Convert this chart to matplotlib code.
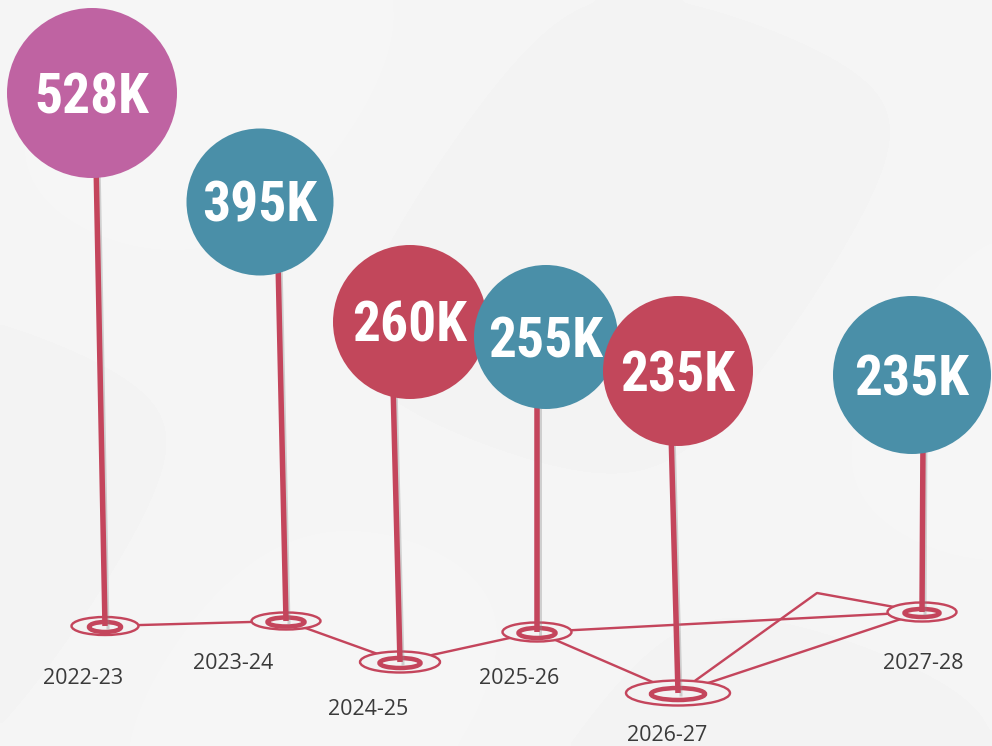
import numpy as np
import matplotlib
matplotlib.use("Agg")
import matplotlib.pyplot as plt
from matplotlib import font_manager
from matplotlib.patches import Circle, Ellipse

# data
years = ["2022-23", "2023-24", "2024-25", "2025-26", "2026-27", "2027-28"]
values = [528, 395, 260, 255, 235, 235]  # thousands
value_labels = [f"{v}K" for v in values]

# layout (pixel space of the 992x746 canvas)
head_x = [92, 260, 410, 546, 678, 912]
head_y = [93, 202, 322, 337, 371, 375]
head_r = [85, 73.5, 77, 72, 75, 79]
head_colors = ["#BF63A2", "#4A8FA8", "#C2475B", "#4A8FA8", "#C2475B", "#4A8FA8"]
stick_top_x = [96, 278, 393, 537, 671, 923]
base_x = [105, 286, 400, 537, 678, 922]
base_y = [626, 621, 662, 632, 693, 612]
base_w = [67, 69, 80, 69, 104, 69]
base_h = [18, 17, 21, 19, 25, 19]
inner_w = [32, 37, 41, 37, 54, 35]
inner_h = [10, 9, 10, 10, 12, 8]
label_x = [83, 233, 368, 519, 667, 923]
label_y = [684, 669, 715, 684, 741, 669]
# base links: (from, to) pin indices, plus one bent link via an apex
links = [(0, 1), (1, 2), (2, 3), (3, 4), (3, 5), (4, 5)]
apex_xy = (817, 593)

RED = "#C4455C"
BG = "#F3F3F3"

names = {f.name for f in font_manager.fontManager.ttflist}
value_font = next((n for n in ["Liberation Sans Narrow", "Roboto Condensed",
                               "Open Sans Condensed"] if n in names), None)
if value_font is None:
    value_font, value_size, value_stretch = "DejaVu Sans", 30, "condensed"
else:
    value_size, value_stretch = 40, "normal"

fig = plt.figure(figsize=(9.92, 7.46), dpi=100)
fig.patch.set_facecolor(BG)
ax = fig.add_axes([0, 0, 1, 1])
ax.set_xlim(0, 992)
ax.set_ylim(746, 0)
ax.set_aspect("equal")
ax.axis("off")

# soft paper-like shading
gx, gy = np.meshgrid(np.linspace(0, 1, 200), np.linspace(0, 1, 150))
shade = 0.958 + 0.006 * np.sin(6 * gx + 3 * gy) * np.cos(4 * gy - 2 * gx)
ax.imshow(shade, cmap="gray", vmin=0, vmax=1, extent=(0, 992, 746, 0),
          zorder=0, interpolation="bicubic")

px = 0.72  # points per pixel at 100 dpi

# connecting lines between bases
for a, b in links:
    ax.plot([base_x[a], base_x[b]], [base_y[a], base_y[b]], color=RED,
            lw=2.4 * px, zorder=2, solid_capstyle="round")
ax.plot([base_x[4], apex_xy[0], base_x[5]], [base_y[4], apex_xy[1], base_y[5]],
        color=RED, lw=2.4 * px, zorder=2)

# base rings
for i in range(len(values)):
    ax.add_patch(Ellipse((base_x[i], base_y[i]), base_w[i], base_h[i],
                         facecolor=BG, edgecolor=RED, lw=2.4 * px, zorder=3))
    ax.add_patch(Ellipse((base_x[i], base_y[i] + 1), inner_w[i], inner_h[i],
                         facecolor="none", edgecolor=RED, lw=4.5 * px, zorder=4))

# sticks
for i in range(len(values)):
    top = head_y[i] + head_r[i] * 0.8
    ax.plot([stick_top_x[i] + 3, base_x[i] + 3], [top, base_y[i] + 2],
            color="#8A8A8A", alpha=0.35, lw=3 * px, zorder=4.5)
    ax.plot([stick_top_x[i], base_x[i]], [top, base_y[i]], color=RED,
            lw=5.5 * px, zorder=5, solid_capstyle="butt")

# heads
for i in range(len(values)):
    ax.add_patch(Circle((head_x[i], head_y[i]), head_r[i],
                        facecolor=head_colors[i], edgecolor="none", zorder=6))
    ax.text(head_x[i], head_y[i] + 20, value_labels[i], ha="center",
            va="baseline", color="white", fontsize=value_size,
            fontfamily=value_font, fontweight="bold", fontstretch=value_stretch,
            zorder=7)

# year labels
for i in range(len(years)):
    ax.text(label_x[i], label_y[i], years[i], ha="center", va="baseline",
            fontsize=15.5, fontfamily="Open Sans", color="#3A3A3A", zorder=7)

fig.savefig("out.png", dpi=100, facecolor=BG)
